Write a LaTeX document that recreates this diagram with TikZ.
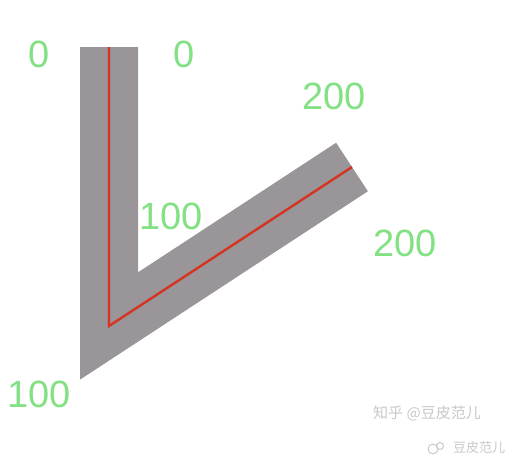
\documentclass[tikz,border=0pt]{standalone}
\usepackage{fontspec}
\setmainfont{Liberation Sans}
\newfontfamily\cjkfont{Noto Sans CJK SC}
\usetikzlibrary{positioning}
\definecolor{bandColor}{RGB}{153,149,153}
\definecolor{axisColor}{RGB}{214,52,32}
\definecolor{numColor}{RGB}{130,225,130}
\definecolor{markColor}{RGB}{200,200,200}
\tikzset{
	band/.style={draw=bandColor, line width=58pt, line join=miter, line cap=butt},
	axis/.style={draw=axisColor, line width=2.4pt, line join=miter},
	num/.style={text=numColor, font=\fontsize{38}{38}\selectfont, inner sep=0pt},
	wmark/.style={text=markColor, font=\cjkfont\fontsize{15}{15}\selectfont, inner sep=0pt}
}

\begin{document}
\begin{tikzpicture}[x=1pt, y=-1pt]
	\useasboundingbox (0,0) rectangle (520,469);
	\coordinate (top) at (109,47);
	\coordinate (corner) at (109,326);
	\coordinate (tip) at (352,167);
	
	\draw[band] (top) -- (corner) -- (tip);
	\draw[axis] (top) -- (corner) -- (tip);
	
	\node[num] (n0a) at (39,54) {0};
	\node[num] (n0b) at (184,54) {0};
	\node[num] (n200a) at (334,96) {200};
	\node[num] (n100a) at (171,216) {100};
	\node[num] (n200b) at (405,243) {200};
	\node[num] (n100b) at (39,394) {100};
	
	% watermark
	\node[wmark] (wm1) at (427,413) {知乎 @豆皮范儿};
	\node[wmark, font=\cjkfont\fontsize{13}{13}\selectfont] (wm2) at (479,448) {豆皮范儿};
	\draw[markColor, line width=1pt] (433,449) circle (5pt);
	\draw[markColor, line width=1pt] (440,446) circle (3.5pt);
\end{tikzpicture}
\end{document}
